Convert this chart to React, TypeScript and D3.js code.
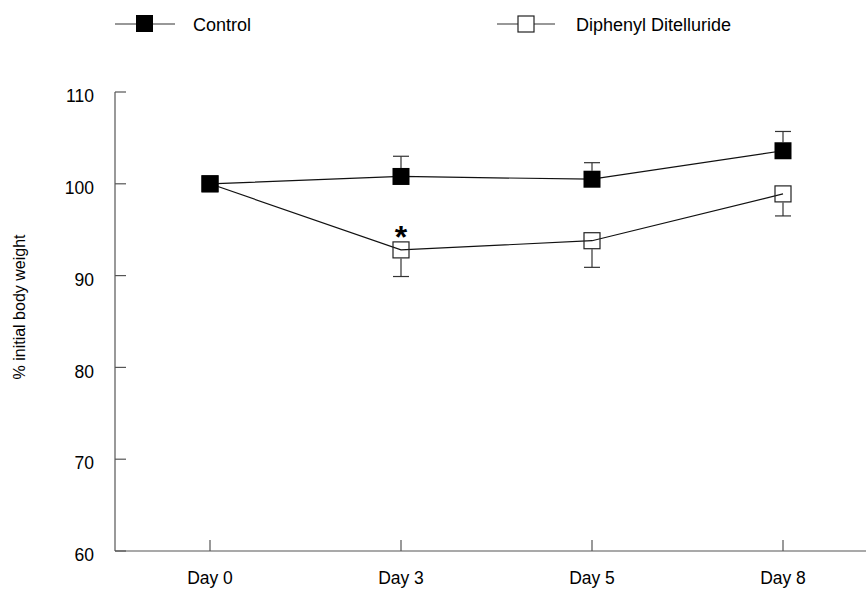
import React from 'react'
import * as d3 from 'd3'

const days = ['Day 0', 'Day 3', 'Day 5', 'Day 8']
const controlMean = [100, 100.8, 100.5, 103.6]
const controlErr = [0, 2.2, 1.8, 2.1]
const dtMean = [100, 92.8, 93.8, 98.9]
const dtErr = [0, 2.9, 2.9, 2.4]
const yTicks = [60, 70, 80, 90, 100, 110]
const starred = [1]

const W = 866
const H = 590
const font = 'Liberation Sans, Arial, sans-serif'
const axisCol = '#555'

export default function App() {
  const x = d3.scalePoint().domain(days).range([210, 783])
  const y = d3.scaleLinear().domain([60, 110]).range([551, 92])
  const line = d3.line<number>().x((_, i) => x(days[i])!).y(d => y(d))
  const half = 8.5
  const cap = 8

  return (
    <svg width={W} height={H} style={{ position: 'absolute', left: 0, top: 0 }} fontFamily={font}>
      {/* axes */}
      <line x1={115} x2={115} y1={y(110)} y2={y(60)} stroke={axisCol} strokeWidth={1.2} />
      <line x1={115} x2={W} y1={y(60)} y2={y(60)} stroke={axisCol} strokeWidth={1.2} />
      {yTicks.map(t => (
        <g key={t}>
          <line x1={115} x2={126} y1={y(t)} y2={y(t)} stroke={axisCol} strokeWidth={1.2} />
          <text x={94} y={y(t) + 4} dy="0.35em" textAnchor="end" fontSize={17.5}>{t}</text>
        </g>
      ))}
      {days.map(d => (
        <g key={d}>
          <line x1={x(d)} x2={x(d)} y1={y(60)} y2={y(60) - 11} stroke={axisCol} strokeWidth={1.2} />
          <text x={x(d)} y={584} textAnchor="middle" fontSize={17.5}>{d}</text>
        </g>
      ))}
      <text transform={`translate(25,307) rotate(-90)`} textAnchor="middle" fontSize={16}>% initial body weight</text>

      {/* error bars */}
      {controlMean.map((m, i) => controlErr[i] > 0 && (
        <g key={'ce' + i} stroke="#333" strokeWidth={1.2}>
          <line x1={x(days[i])} x2={x(days[i])} y1={y(m) - half} y2={y(m + controlErr[i])} />
          <line x1={x(days[i])! - cap} x2={x(days[i])! + cap} y1={y(m + controlErr[i])} y2={y(m + controlErr[i])} />
        </g>
      ))}
      {dtMean.map((m, i) => dtErr[i] > 0 && (
        <g key={'de' + i} stroke="#333" strokeWidth={1.2}>
          <line x1={x(days[i])} x2={x(days[i])} y1={y(m) + half} y2={y(m - dtErr[i])} />
          <line x1={x(days[i])! - cap} x2={x(days[i])! + cap} y1={y(m - dtErr[i])} y2={y(m - dtErr[i])} />
        </g>
      ))}

      {/* lines */}
      <path d={line(controlMean)!} fill="none" stroke="#111" strokeWidth={1.2} />
      <path d={line(dtMean)!} fill="none" stroke="#111" strokeWidth={1.2} />

      {/* markers */}
      {dtMean.map((m, i) => (
        <rect key={'dm' + i} x={x(days[i])! - 8} y={y(m) - 8} width={16} height={16} fill="none" stroke="#222" strokeWidth={1.2} />
      ))}
      {controlMean.map((m, i) => (
        <rect key={'cm' + i} x={x(days[i])! - half} y={y(m) - half} width={17} height={17} fill="#000" />
      ))}
      {starred.map(i => (
        <text key={'s' + i} x={x(days[i])} y={y(dtMean[i]) - 2} textAnchor="middle" fontSize={32} fontWeight="bold">*</text>
      ))}

      {/* legend */}
      <line x1={115} x2={175} y1={24} y2={24} stroke="#333" strokeWidth={1.2} />
      <rect x={136} y={15} width={17} height={17} fill="#000" />
      <text x={193} y={31} fontSize={18}>Control</text>
      <line x1={497} x2={555} y1={24} y2={24} stroke="#333" strokeWidth={1.2} />
      <rect x={518} y={16} width={16} height={16} fill="#fff" stroke="#222" strokeWidth={1.2} />
      <text x={576} y={31} fontSize={18}>Diphenyl Ditelluride</text>
    </svg>
  )
}
